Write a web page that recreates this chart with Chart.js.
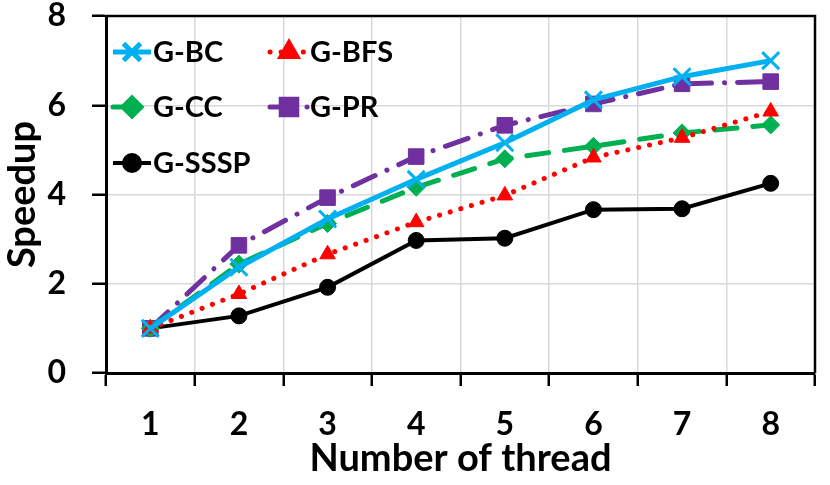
<!DOCTYPE html>
<html>
<head>
<meta charset="utf-8">
<script src="https://cdn.jsdelivr.net/npm/chart.js@4.4.1/dist/chart.umd.min.js"></script>
<style>
body { margin: 0; background: #fff; }
#caja { width: 830px; height: 485px; }
</style>
</head>
<body>
<div id="caja"><canvas id="grafico"></canvas></div>
<script>
const threads = ['1', '2', '3', '4', '5', '6', '7', '8'];
const gBC = [1, 2.37, 3.45, 4.34, 5.16, 6.12, 6.64, 7.0];
const gBFS = [1, 1.77, 2.66, 3.38, 3.98, 4.83, 5.27, 5.86];
const gCC = [1, 2.44, 3.35, 4.16, 4.8, 5.08, 5.38, 5.56];
const gPR = [1, 2.86, 3.93, 4.85, 5.55, 6.03, 6.48, 6.53];
const gSSSP = [1, 1.28, 1.92, 2.97, 3.02, 3.66, 3.68, 4.25];
const yTicks = [0, 2, 4, 6, 8];

const fuente = 'Lato, "Open Sans", sans-serif';

// posiciones de la leyenda dentro del area del grafico
const leyendaPos = [
    { x: 113, y: 52 }, { x: 270, y: 52 },
    { x: 113, y: 107 }, { x: 270, y: 107 },
    { x: 113, y: 163 }
];

const leyenda = {
    id: 'leyenda',
    afterDraw(chart) {
        const ctx = chart.ctx;
        ctx.save();
        chart.data.datasets.forEach((ds, i) => {
            const p = leyendaPos[i];
            ctx.strokeStyle = ds.borderColor;
            ctx.fillStyle = ds.borderColor;
            ctx.lineWidth = ds.borderWidth;
            ctx.lineCap = ds.borderCapStyle || 'butt';
            ctx.setLineDash(ds.borderDash || []);
            ctx.beginPath();
            ctx.moveTo(p.x, p.y);
            ctx.lineTo(p.x + 38, p.y);
            ctx.stroke();
            ctx.setLineDash([]);
            ctx.lineCap = 'butt';
            Chart.helpers.drawPoint(ctx, {
                pointStyle: ds.pointStyle,
                radius: ds.pointRadius,
                borderWidth: ds.pointBorderWidth,
                rotation: 0
            }, p.x + 19, p.y);
            ctx.fillStyle = '#000';
            ctx.font = 'bold 29px ' + fuente;
            ctx.textBaseline = 'middle';
            ctx.fillText(ds.label, p.x + 40, p.y + 1);
        });
        ctx.restore();
    }
};

const marco = {
    id: 'marco',
    afterDraw(chart) {
        const { ctx, chartArea: { left, top, right, bottom } } = chart;
        ctx.save();
        ctx.strokeStyle = '#000';
        ctx.lineWidth = 2.5;
        ctx.beginPath();
        ctx.moveTo(left, top);
        ctx.lineTo(right, top);
        ctx.lineTo(right, bottom);
        ctx.stroke();
        ctx.restore();
    }
};

function serie(label, data, color, extra) {
    return Object.assign({
        label: label,
        data: data,
        borderColor: color,
        backgroundColor: color,
        pointBackgroundColor: color,
        pointBorderColor: color,
        borderWidth: 4,
        pointBorderWidth: 1,
        pointRadius: 8,
        pointHoverRadius: 8,
        tension: 0
    }, extra);
}

new Chart(document.getElementById('grafico').getContext('2d'), {
    type: 'line',
    plugins: [marco, leyenda],
    data: {
        labels: threads,
        datasets: [
            serie('G-BC', gBC, '#00B0F0', { borderWidth: 5, pointStyle: 'crossRot', pointRadius: 12, pointBorderWidth: 3 }),
            serie('G-BFS', gBFS, '#FF0000', { borderWidth: 5, borderDash: [0.1, 11], borderCapStyle: 'round', pointStyle: 'triangle', pointRadius: 9 }),
            serie('G-CC', gCC, '#00B050', { borderWidth: 5, borderDash: [22, 16], borderCapStyle: 'round', pointStyle: 'rectRot', pointRadius: 9 }),
            serie('G-PR', gPR, '#7030A0', { borderWidth: 5, borderDash: [24, 13, 0.1, 13], borderCapStyle: 'round', pointStyle: 'rect', pointRadius: 11 }),
            serie('G-SSSP', gSSSP, '#000000', { borderWidth: 4, pointStyle: 'circle', pointRadius: 8 })
        ]
    },
    options: {
        responsive: true,
        maintainAspectRatio: false,
        animation: false,
        layout: { padding: { top: 16, right: 9, left: 0, bottom: 0 } },
        plugins: {
            legend: { display: false },
            tooltip: { enabled: false }
        },
        scales: {
            x: {
                offset: true,
                afterFit: s => { s.height = 112; s.paddingLeft = 0; s.paddingRight = 0; },
                grid: {
                    offset: true,
                    color: '#d9d9d9',
                    lineWidth: 1.5,
                    tickColor: '#000',
                    tickWidth: 2.5,
                    tickLength: 13
                },
                border: { color: '#000', width: 3 },
                ticks: {
                    color: '#000',
                    padding: 19,
                    maxRotation: 0,
                    font: { family: fuente, weight: 'bold', size: 32 }
                },
                title: {
                    display: true,
                    text: 'Number of thread',
                    color: '#000',
                    padding: { top: 0, bottom: 3 },
                    font: { family: fuente, weight: 'bold', size: 38 }
                }
            },
            y: {
                min: 0,
                max: 8,
                afterFit: s => { s.width = 106; s.paddingTop = 0; s.paddingBottom = 0; },
                afterBuildTicks: s => { s.ticks = yTicks.map(v => ({ value: v })); },
                grid: {
                    color: '#d9d9d9',
                    lineWidth: 1.5,
                    tickColor: '#000',
                    tickWidth: 2.5,
                    tickLength: 14
                },
                border: { color: '#000', width: 3 },
                ticks: {
                    color: '#000',
                    padding: 26,
                    font: { family: fuente, weight: 'bold', size: 32 }
                },
                title: {
                    display: true,
                    text: 'Speedup',
                    color: '#000',
                    padding: { top: 0, bottom: 0 },
                    font: { family: fuente, weight: 'bold', size: 38 }
                }
            }
        }
    }
});
</script>
</body>
</html>
